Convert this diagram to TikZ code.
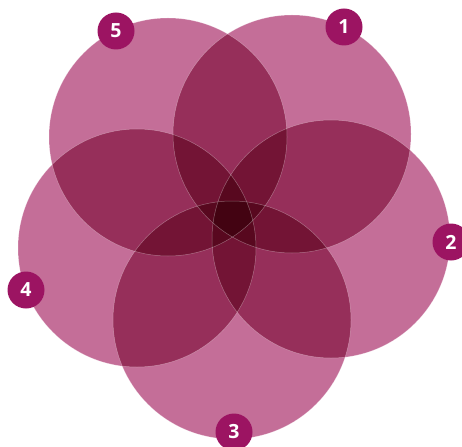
\documentclass[tikz,border=0pt]{standalone}
\usepackage{fontspec}
\setmainfont{Open Sans}
\definecolor{petal}{RGB}{196,110,152}
\definecolor{badge}{RGB}{156,20,98}
\begin{document}
\begin{tikzpicture}[x=1pt,y=-1pt,
  petalfill/.style={fill=petal,blend mode=multiply},
  petalline/.style={draw=white,draw opacity=0.35,line width=0.5pt},
  badgenode/.style={circle,fill=badge,minimum size=37pt,inner sep=0pt,text=white,font=\bfseries\fontsize{19.5}{19.5}\selectfont}]
\useasboundingbox (0,0) rectangle (462,446);
\coordinate (c1) at (292,134);
\coordinate (c2) at (331,239);
\coordinate (c3) at (232,320);
\coordinate (c4) at (137,248);
\coordinate (c5) at (168,137);
\foreach \c in {c1,c2,c3,c4,c5}{
  \fill[petalfill] (\c) circle (119);
}
\foreach \c in {c1,c2,c3,c4,c5}{
  \draw[petalline] (\c) circle (119);
}
\node[badgenode] (b1) at (344,27) {1};
\node[badgenode] (b2) at (451,242) {2};
\node[badgenode] (b3) at (234,432) {3};
\node[badgenode] (b4) at (26,290) {4};
\node[badgenode] (b5) at (116,31) {5};
\end{tikzpicture}
\end{document}
